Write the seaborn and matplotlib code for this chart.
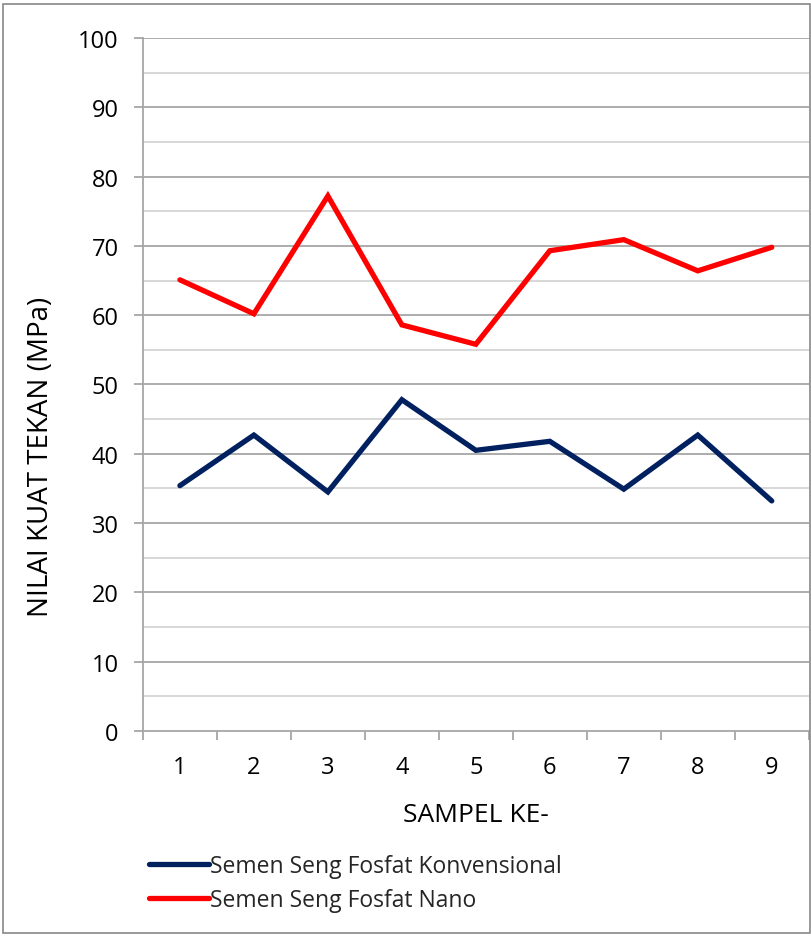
import matplotlib
matplotlib.use("Agg")
import matplotlib.pyplot as plt
import seaborn as sns
import pandas as pd
from matplotlib.patches import Rectangle

samples = [1, 2, 3, 4, 5, 6, 7, 8, 9]
konvensional = [35.4, 42.7, 34.5, 47.8, 40.5, 41.8, 34.9, 42.7, 33.2]
nano = [65.1, 60.2, 77.2, 58.6, 55.8, 69.3, 70.9, 66.4, 69.8]
series_names = ["Semen Seng Fosfat Konvensional", "Semen Seng Fosfat Nano"]
colors = ["#002060", "#ff0000"]

df = pd.DataFrame({
    "x": samples * 2,
    "y": konvensional + nano,
    "series": [series_names[0]] * 9 + [series_names[1]] * 9,
})

sns.set_theme(style="white")
plt.rcParams["font.family"] = ["Open Sans", "DejaVu Sans"]

fig = plt.figure(figsize=(8.12, 9.37), dpi=100)
ax = fig.add_axes([0.176, 0.2188, 0.82, 0.7396])

sns.lineplot(data=df, x="x", y="y", hue="series", palette=colors,
             linewidth=3.8, ax=ax, legend=True,
             solid_capstyle="round", solid_joinstyle="miter")

ax.set_xlim(0.5, 9.5)
ax.set_ylim(0, 100)
ax.set_yticks(range(0, 101, 10))
ax.set_yticks(range(5, 100, 10), minor=True)
ax.set_xticks(samples)
ax.set_xticklabels([str(s) for s in samples])
ax.set_xticks([s + 0.5 for s in range(0, 10)], minor=True)

for v in range(10, 101, 10):
    ax.axhline(v, color="#a6a6a6", lw=1.3, zorder=0)
for v in range(5, 100, 10):
    ax.axhline(v, color="#d4d4d4", lw=1.3, zorder=0)

for s in ["top", "right"]:
    ax.spines[s].set_visible(False)
ax.spines["left"].set_color("#a6a6a6")
ax.spines["bottom"].set_color("#a6a6a6")
ax.spines["left"].set_linewidth(1.3)
ax.spines["bottom"].set_linewidth(1.3)

ax.tick_params(axis="y", which="major", length=6.5, color="#a6a6a6", width=1.3,
               labelsize=17, pad=11, labelcolor="black", left=True)
ax.tick_params(axis="y", which="minor", length=0)
ax.tick_params(axis="x", which="major", length=0, labelsize=17, pad=17,
               labelcolor="black", bottom=True)
ax.tick_params(axis="x", which="minor", length=6.5, color="#a6a6a6", width=1.3,
               bottom=True)

ax.set_xlabel("SAMPEL KE-", fontsize=19, labelpad=17, color="black")
ax.set_ylabel("NILAI KUAT TEKAN (MPa)", fontsize=20, color="black")
ax.yaxis.set_label_coords(-0.132, 0.397)

handles, labels = ax.get_legend_handles_labels()
ax.legend(handles, labels, loc="upper left", bbox_to_anchor=(0.1725, 0.097),
          bbox_transform=fig.transFigure, frameon=False, fontsize=16.5,
          handlelength=2.6, handletextpad=0.05, labelspacing=0.42,
          borderaxespad=0)
for h in ax.get_legend().get_lines():
    h.set_linewidth(3.8)
    h.set_solid_capstyle("round")

fig.patches.append(Rectangle((0.004, 0.003), 0.993, 0.992, transform=fig.transFigure,
                             fill=False, edgecolor="#888888", lw=1.2))

fig.savefig("out.png", dpi=100)
